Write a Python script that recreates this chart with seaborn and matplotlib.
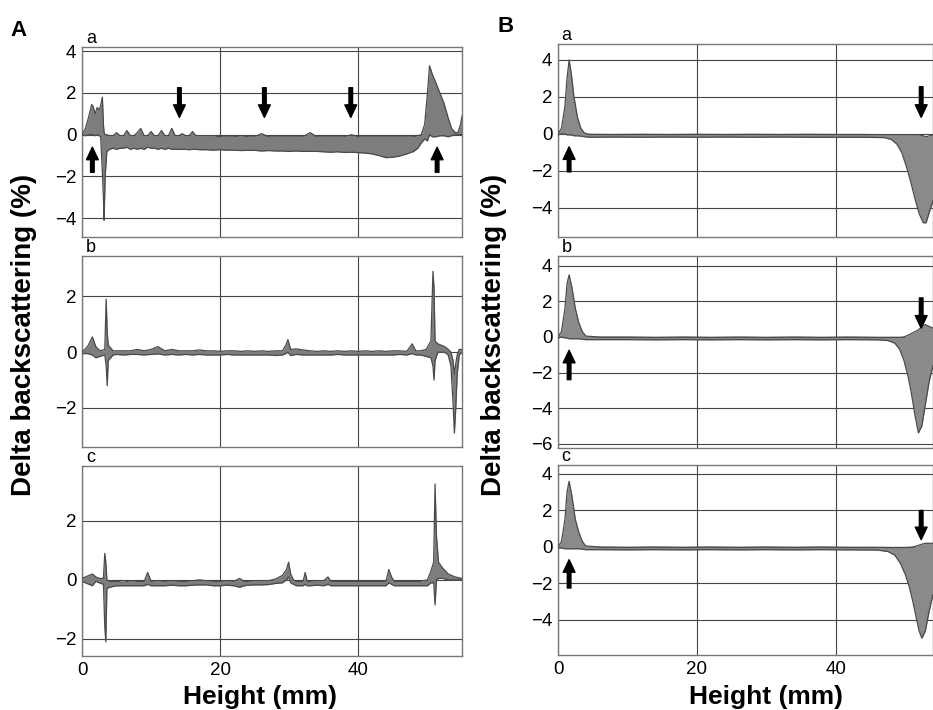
import numpy as np
import pandas as pd
import seaborn as sns
import matplotlib
matplotlib.use("Agg")
import matplotlib.pyplot as plt

# Panel A-a : height (mm), upper and lower envelope of the overlaid scans (%)
aa_h = [0, 0.5, 1.0, 1.4, 1.6, 1.9, 2.2, 2.5, 2.7, 2.95, 3.1, 3.2, 3.35, 3.6, 4, 4.5, 5, 5.5, 6, 6.5,
        7, 7.5, 8, 8.5, 9, 9.5, 10, 10.5, 11, 11.5, 12, 12.5, 13, 13.5, 14, 14.5, 15, 15.5, 16, 16.5,
        17, 18, 19, 20, 21, 22, 23, 24, 25, 26, 27, 28, 29, 30, 31, 32, 33, 34, 35, 36,
        37, 38, 39, 40, 41, 42, 43, 44, 45, 46, 47, 48, 48.6, 49.1, 49.6, 50.0, 50.3, 50.7, 51.2, 51.8,
        52.4, 53.0, 53.5, 54.0, 54.4, 54.8, 55.0]
aa_hi = [0.0, 0.3, 0.9, 1.45, 1.35, 1.0, 1.3, 1.2, 1.4, 1.8, 0.5, 0.1, 0.0, 0.0, -0.05, -0.05, 0.1, -0.05, -0.05, 0.2,
         -0.05, -0.05, 0.1, 0.3, -0.05, -0.05, 0.15, -0.05, -0.05, 0.2, -0.05, -0.05, 0.3, -0.05, -0.05, 0.05, -0.05, -0.05, 0.15, -0.05,
         -0.05, -0.05, -0.05, -0.1, -0.1, -0.1, -0.05, -0.1, -0.1, 0.05, -0.1, -0.1, -0.1, -0.1, -0.1, -0.1, 0.1, -0.1, -0.1, -0.1,
         -0.1, -0.1, 0.0, -0.1, -0.1, -0.1, -0.1, -0.1, -0.1, -0.1, -0.1, -0.1, -0.05, 0.0, 0.5, 2.0, 3.3, 2.9, 2.5, 2.0,
         1.5, 0.8, 0.3, 0.1, 0.1, 0.5, 0.9]
aa_lo = [0.0, -0.05, 0.0, 0.0, 0.0, -0.05, 0.0, -0.05, -0.1, -1.8, -3.0, -4.1, -2.0, -0.8, -0.7, -0.65, -0.7, -0.65, -0.65, -0.6,
         -0.7, -0.65, -0.7, -0.65, -0.7, -0.6, -0.65, -0.65, -0.7, -0.65, -0.7, -0.65, -0.7, -0.7, -0.7, -0.7, -0.7, -0.72, -0.7, -0.7,
         -0.72, -0.72, -0.74, -0.72, -0.74, -0.74, -0.76, -0.75, -0.75, -0.78, -0.76, -0.78, -0.78, -0.8, -0.78, -0.8, -0.8, -0.8, -0.82, -0.84,
         -0.82, -0.85, -0.84, -0.86, -0.88, -0.92, -1.0, -1.1, -1.08, -1.02, -0.92, -0.8, -0.65, -0.4, -0.2, -0.3, 0.0, -0.1, -0.1, -0.05,
         -0.05, -0.1, -0.05, 0.0, 0.0, 0.0, 0.0]

# Panel A-b
ab_h = [0, 0.8, 1.5, 2.0, 2.6, 3.3, 3.5, 3.65, 3.8, 4.5, 5, 6, 7, 8, 9, 10, 11, 12, 13, 14,
        15, 16, 17, 18, 19, 20, 21, 22, 23, 24, 25, 26, 27, 28, 29, 29.5, 29.8, 30.2, 31, 32,
        33, 34, 35, 36, 37, 38, 39, 40, 41, 42, 43, 44, 45, 46, 47, 47.8, 48.3, 49, 49.8, 50.5,
        50.8, 50.95, 51.1, 51.5, 52.5, 53.0, 53.4, 53.7, 53.9, 54.1, 54.3, 54.6, 55]
ab_hi = [0.0, 0.2, 0.55, 0.2, 0.05, 0.1, 1.9, 0.7, 0.25, 0.05, 0.05, 0.05, 0.05, 0.1, 0.05, 0.1, 0.2, 0.05, 0.1, 0.05,
         0.05, 0.05, 0.08, 0.05, 0.05, 0.03, 0.05, 0.05, 0.03, 0.05, 0.03, 0.05, 0.03, 0.05, 0.05, 0.25, 0.45, 0.1, 0.12, 0.08,
         0.05, 0.03, 0.05, 0.03, 0.05, 0.03, 0.05, 0.03, 0.05, 0.03, 0.05, 0.03, 0.05, 0.05, 0.03, 0.3, 0.05, 0.05, 0.1, 0.4,
         2.9, 2.3, 0.4, 0.3, 0.2, 0.1, 0.0, -0.3, -0.8, -0.4, -0.1, 0.1, 0.1]
ab_lo = [-0.05, -0.05, -0.1, -0.2, -0.15, -0.1, -0.5, -1.2, -0.3, -0.1, -0.08, -0.1, -0.08, -0.08, -0.1, -0.08, -0.06, -0.1, -0.08, -0.1,
         -0.08, -0.1, -0.08, -0.1, -0.1, -0.1, -0.08, -0.1, -0.1, -0.1, -0.1, -0.1, -0.1, -0.12, -0.1, -0.05, 0.0, -0.12, -0.08, -0.1,
         -0.1, -0.1, -0.1, -0.1, -0.08, -0.1, -0.1, -0.1, -0.1, -0.1, -0.1, -0.1, -0.1, -0.08, -0.1, -0.05, -0.1, -0.1, -0.15, -0.2,
         -0.5, -1.0, -0.3, 0.0, 0.0, -0.1, -0.5, -1.8, -2.9, -2.0, -0.8, -0.1, 0.0]

# Panel A-c
ac_h = [0, 0.5, 1.0, 1.5, 2.0, 2.5, 3.1, 3.3, 3.45, 3.6, 4.0, 5, 6, 7, 8, 9, 9.5, 10, 11, 12,
        13, 14, 15, 16, 17, 18, 19, 20, 21, 22, 22.8, 23.5, 24, 25, 26, 27, 28, 29, 29.6, 29.9,
        30.2, 30.6, 31, 32, 32.3, 32.6, 33, 34, 35, 35.6, 36, 37, 38, 39, 40, 41, 42, 43, 44, 44.4,
        44.8, 45.2, 46, 47, 48, 49, 50, 50.5, 50.9, 51.1, 51.3, 51.6, 52.2, 53.0, 54.0, 55]
ac_hi = [0.05, 0.1, 0.15, 0.2, 0.1, 0.05, 0.05, 0.9, 0.6, 0.0, -0.05, -0.05, -0.08, -0.03, -0.05, -0.05, 0.25, -0.05, -0.03, -0.05,
         -0.03, -0.05, -0.05, -0.03, 0.0, -0.03, -0.05, -0.05, -0.03, -0.05, 0.05, -0.05, -0.05, -0.03, -0.03, -0.03, 0.03, 0.15, 0.35, 0.6,
         0.2, 0.0, -0.05, -0.05, 0.25, -0.05, -0.05, -0.03, -0.03, 0.1, -0.05, -0.05, -0.05, -0.05, -0.05, -0.05, -0.05, -0.05, -0.05, 0.35,
         0.1, -0.05, -0.05, -0.05, -0.05, -0.05, 0.0, 0.3, 0.6, 3.25, 1.5, 0.6, 0.4, 0.2, 0.1, 0.05]
ac_lo = [-0.05, -0.1, -0.15, -0.2, -0.05, -0.1, -0.15, -1.6, -2.1, -0.3, -0.25, -0.2, -0.2, -0.2, -0.2, -0.2, -0.15, -0.2, -0.2, -0.2,
         -0.18, -0.2, -0.2, -0.18, -0.17, -0.17, -0.2, -0.2, -0.18, -0.2, -0.25, -0.2, -0.18, -0.17, -0.17, -0.16, -0.12, -0.1, 0.0, 0.1,
         -0.1, -0.15, -0.2, -0.2, -0.15, -0.2, -0.2, -0.18, -0.2, -0.15, -0.2, -0.2, -0.2, -0.2, -0.2, -0.2, -0.2, -0.2, -0.2, -0.1,
         -0.15, -0.2, -0.2, -0.2, -0.2, -0.2, -0.2, -0.1, -0.1, -0.85, 0.0, 0.05, 0.05, 0.0, 0.0, 0.0]

# Panel B-a
ba_h = [0, 0.5, 1.0, 1.3, 1.6, 1.9, 2.3, 2.8, 3.3, 3.8, 4.5, 8, 12, 16, 20, 24, 28, 32, 36, 40,
        44, 47, 48, 48.8, 49.5, 50.2, 50.8, 51.4, 52.0, 52.6, 53.0, 53.5, 54.0]
ba_hi = [0.0, 0.3, 1.5, 3.0, 4.0, 3.3, 2.0, 0.9, 0.3, 0.05, -0.02, -0.03, -0.02, -0.03, -0.02, -0.03, -0.02, -0.03, -0.02, -0.03,
         -0.03, -0.05, -0.05, -0.05, -0.05, -0.05, -0.05, -0.05, -0.05, -0.1, -0.15, -0.1, -0.05]
ba_lo = [-0.05, 0.0, 0.0, -0.05, -0.05, -0.05, -0.1, -0.1, -0.12, -0.15, -0.18, -0.17, -0.18, -0.17, -0.18, -0.17, -0.18, -0.17, -0.18, -0.18,
         -0.18, -0.2, -0.3, -0.55, -1.0, -1.8, -2.6, -3.5, -4.3, -4.8, -4.8, -4.2, -3.6]

# Panel B-b
bb_h = [0, 0.5, 1.0, 1.3, 1.6, 2.0, 2.5, 3.0, 3.5, 4.0, 6, 10, 14, 18, 22, 26, 30, 34, 38, 42,
        46, 47.5, 48.5, 49.2, 49.8, 50.4, 50.9, 51.4, 51.9, 52.4, 52.9, 53.4, 54.0]
bb_hi = [0.0, 0.3, 1.6, 3.0, 3.5, 2.8, 1.6, 0.8, 0.3, 0.05, 0.0, 0.0, -0.02, 0.0, -0.02, 0.0, -0.02, 0.0, -0.02, 0.0,
         -0.02, -0.02, -0.02, -0.02, 0.0, 0.1, 0.2, 0.3, 0.4, 0.6, 0.7, 0.6, 0.5]
bb_lo = [-0.05, 0.0, -0.05, -0.05, -0.1, -0.1, -0.1, -0.1, -0.12, -0.15, -0.15, -0.15, -0.16, -0.15, -0.16, -0.15, -0.16, -0.15, -0.16, -0.15,
         -0.16, -0.2, -0.35, -0.7, -1.3, -2.2, -3.2, -4.4, -5.4, -5.0, -3.8, -2.6, -1.6]

# Panel B-c
bc_h = [0, 0.5, 1.0, 1.3, 1.6, 2.0, 2.5, 3.0, 3.5, 4.0, 6, 10, 14, 18, 22, 26, 30, 34, 38, 42,
        46, 47.5, 48.5, 49.3, 50.0, 50.6, 51.1, 51.6, 52.0, 52.4, 52.9, 53.4, 54.0]
bc_hi = [0.0, 0.3, 1.5, 3.0, 3.6, 2.8, 1.5, 0.8, 0.3, 0.05, 0.0, -0.02, 0.0, -0.02, 0.0, -0.02, 0.0, -0.02, 0.0, -0.02,
         -0.02, -0.03, -0.03, -0.03, -0.03, -0.02, 0.0, 0.05, 0.1, 0.15, 0.2, 0.2, 0.2]
bc_lo = [-0.05, -0.05, -0.1, -0.1, -0.1, -0.1, -0.1, -0.1, -0.12, -0.15, -0.15, -0.16, -0.15, -0.16, -0.15, -0.16, -0.15, -0.16, -0.15, -0.16,
         -0.17, -0.25, -0.45, -0.9, -1.5, -2.2, -3.0, -3.9, -4.6, -5.0, -4.6, -3.6, -2.6]

# arrows: (height, tail, tip)
aa_arrows = [(1.5, -1.8, -0.6), (51.4, -1.8, -0.6), (14.1, 2.25, 0.83), (26.4, 2.25, 0.83), (38.9, 2.25, 0.83)]
ba_arrows = [(1.6, -2.05, -0.7), (52.3, 2.55, 0.9)]
bb_arrows = [(1.6, -2.4, -0.75), (52.3, 2.2, 0.5)]
bc_arrows = [(1.6, -2.25, -0.7), (52.3, 2.0, 0.4)]

sns.set_style("white")
plt.rcParams["font.family"] = ["Liberation Sans", "DejaVu Sans"]
plt.rcParams["text.color"] = "black"
plt.rcParams["xtick.color"] = "black"
plt.rcParams["ytick.color"] = "black"

fig = plt.figure(figsize=(9.33, 7.10), dpi=100)

W, H = 933, 710


def make_ax(left, top, right, bottom):
    return fig.add_axes([left / W, 1 - bottom / H, (right - left) / W, (bottom - top) / H])


def draw(ax, h, hi, lo, xmax, ylim, yticks, arrows, tag, show_x, fill):
    df = pd.DataFrame({"h": h, "hi": hi, "lo": lo})
    ax.fill_between(df["h"], df["lo"], df["hi"], color=fill, lw=0, zorder=3)
    sns.lineplot(data=df, x="h", y="hi", ax=ax, color="#4a4a4a", lw=0.9, zorder=4)
    sns.lineplot(data=df, x="h", y="lo", ax=ax, color="#4a4a4a", lw=0.9, zorder=4)
    for x, tail, tip in arrows:
        ax.annotate("", xy=(x, tip), xytext=(x, tail), zorder=6,
                    arrowprops=dict(facecolor="black", edgecolor="black", width=2.6,
                                    headwidth=8.5, headlength=9, shrink=0))
    ax.set_xlim(0, xmax)
    ax.set_ylim(*ylim)
    ax.set_xticks([0, 20, 40])
    ax.set_yticks(yticks)
    ax.grid(True, color="#444444", lw=0.8, zorder=1)
    ax.set_axisbelow(True)
    for s in ax.spines.values():
        s.set_color("#777777")
        s.set_linewidth(1.0)
    ax.tick_params(length=0, labelsize=13.5, pad=4, colors="black")
    ax.set_xlabel("")
    ax.set_ylabel("")
    if not show_x:
        ax.set_xticklabels([])
    ax.text(0.01, 1.0, tag, transform=ax.transAxes, fontsize=13, va="bottom", ha="left", color="black")


panels = [
    ((82, 47, 462, 237), aa_h, aa_hi, aa_lo, 55, (-4.9, 4.2), [-4, -2, 0, 2, 4], aa_arrows, "a", False),
    ((82, 256, 462, 447), ab_h, ab_hi, ab_lo, 55, (-3.4, 3.45), [-2, 0, 2], [], "b", False),
    ((82, 466, 462, 656), ac_h, ac_hi, ac_lo, 55, (-2.58, 3.86), [-2, 0, 2], [], "c", True),
    ((558, 44, 933, 237), ba_h, ba_hi, ba_lo, 54, (-5.57, 4.86), [-4, -2, 0, 2, 4], ba_arrows, "a", False),
    ((558, 256, 933, 448), bb_h, bb_hi, bb_lo, 54, (-6.25, 4.56), [-6, -4, -2, 0, 2, 4], bb_arrows, "b", False),
    ((558, 465, 933, 655), bc_h, bc_hi, bc_lo, 54, (-5.92, 4.49), [-4, -2, 0, 2, 4], bc_arrows, "c", True),
]

for i, (box, h, hi, lo, xmax, ylim, yt, arr, tag, sx) in enumerate(panels):
    ax = make_ax(*box)
    fill = "#7d7d7d" if i < 3 else "#8a8a8a"
    draw(ax, h, hi, lo, xmax, ylim, yt, arr, tag, sx, fill)

fig.text(10 / W, 1 - 30 / H, "A", fontsize=16, fontweight="bold", va="center", ha="left")
fig.text(497 / W, 1 - 27 / H, "B", fontsize=16, fontweight="bold", va="center", ha="left")
for x in (24, 494):
    fig.text(x / W, 1 - 335 / H, "Delta backscattering (%)", rotation=90, fontsize=20,
             fontweight="bold", va="center", ha="center")
fig.text(260 / W, 1 - 697 / H, "Height (mm)", fontsize=19, fontweight="bold", va="center", ha="center")
fig.text(766 / W, 1 - 697 / H, "Height (mm)", fontsize=19, fontweight="bold", va="center", ha="center")

fig.savefig("out.png", dpi=100)
